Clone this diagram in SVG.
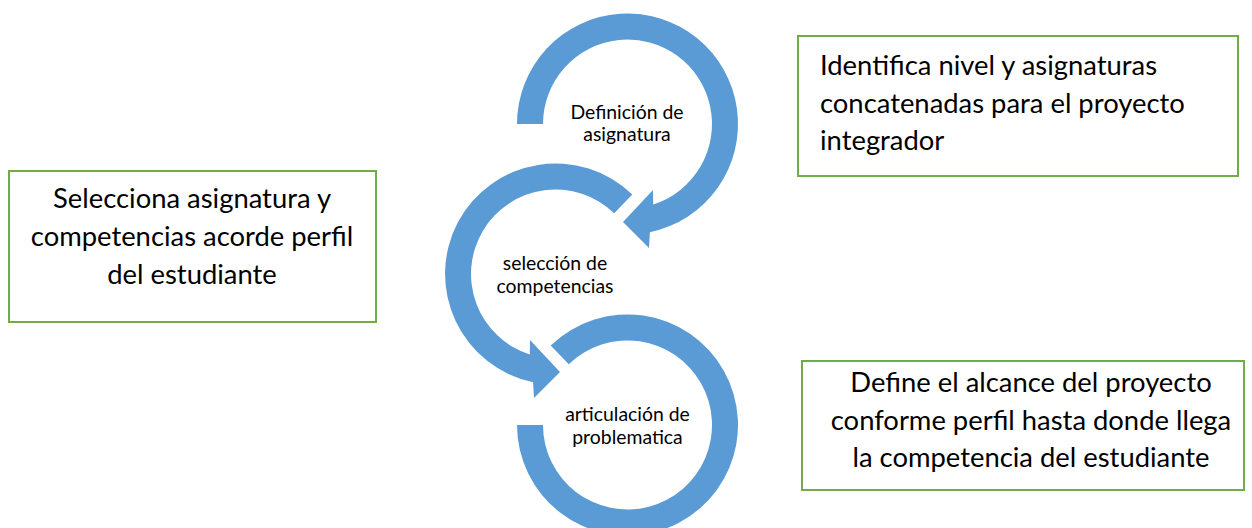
<svg xmlns="http://www.w3.org/2000/svg" width="1252" height="528" viewBox="0 0 1252 528">
<style>
.arc{fill:#5B9BD5;stroke:none}
.box{fill:#FFFFFF;stroke:#70AD47;stroke-width:2}
.big{font-family:Lato,"Open Sans","Liberation Sans",sans-serif;font-size:27.4px;fill:#000}
.small{font-family:Lato,"Open Sans","Liberation Sans",sans-serif;font-size:19.4px;fill:#000;text-anchor:middle}
</style>
<rect width="1252" height="528" fill="#FFFFFF"/>
<g id="connectors">
<path class="arc" d="M517,124 A110.5,110.5 0 1 1 649.9,232.2 L649,248 L623,222 L653,190 L653.2,204.5 A84.5,84.5 0 1 0 543,124 Z"/>
<path class="arc" d="M632.3,194.5 A110.5,110.5 0 1 0 533.1,382.2 L534,398 L560,372 L530,340 L529.8,354.5 A84.5,84.5 0 1 1 614.2,213.2 Z"/>
<path class="arc" d="M550.7,345.5 A110.5,110.5 0 1 1 517,425 L543,425 A84.5,84.5 0 1 0 568.8,364.2 Z"/>
</g>
<g id="step1">
<text class="small" x="627" y="119">Definición de</text>
<text class="small" x="627" y="141">asignatura</text>
</g>
<g id="step2">
<text class="small" x="555" y="270">selección de</text>
<text class="small" x="555" y="293">competencias</text>
</g>
<g id="step3">
<text class="small" x="627.5" y="421">articulación de</text>
<text class="small" x="627.5" y="444">problematica</text>
</g>
<g id="note1">
<rect class="box" x="798" y="36" width="440" height="140"/>
<text class="big" x="820" y="75">Identifica nivel y asignaturas</text>
<text class="big" x="820" y="113">concatenadas para el proyecto</text>
<text class="big" x="820" y="150">integrador</text>
</g>
<g id="note2">
<rect class="box" x="9" y="171" width="367" height="151"/>
<text class="big" x="192" y="208" text-anchor="middle">Selecciona asignatura y</text>
<text class="big" x="192" y="246" text-anchor="middle">competencias acorde perfil</text>
<text class="big" x="192" y="284" text-anchor="middle">del estudiante</text>
</g>
<g id="note3">
<rect class="box" x="802" y="361" width="442" height="129"/>
<text class="big" x="1031" y="392" text-anchor="middle">Define el alcance del proyecto</text>
<text class="big" x="1031" y="430" text-anchor="middle">conforme perfil hasta donde llega</text>
<text class="big" x="1031" y="467" text-anchor="middle">la competencia del estudiante</text>
</g>
</svg>
